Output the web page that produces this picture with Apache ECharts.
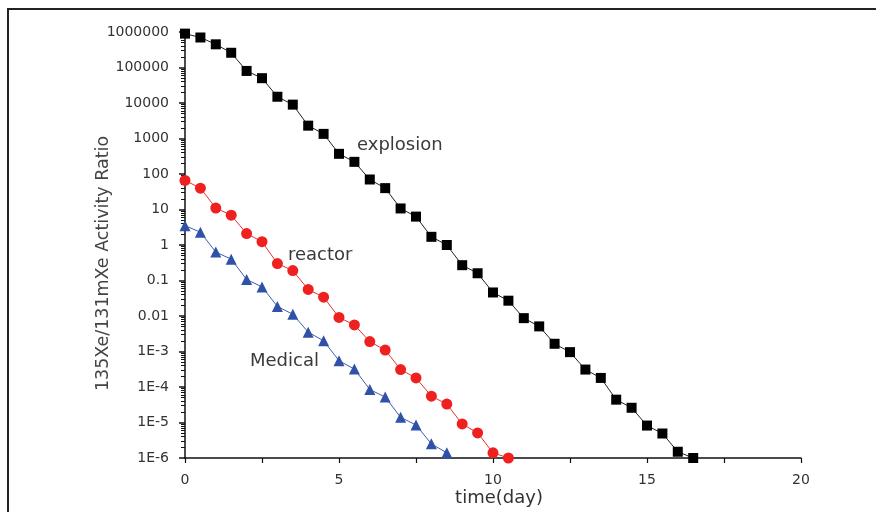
<!DOCTYPE html>
<html>
<head>
<meta charset="utf-8">
<title>Xe activity ratio</title>
<script src="https://cdn.jsdelivr.net/npm/echarts@6/dist/echarts.min.js"></script>
<style>
  html, body { margin: 0; padding: 0; background: #fff; }
  #chart { width: 876px; height: 512px; }
</style>
</head>
<body>
<div id="chart"></div>
<script>
// time in days, one point every half day
const explosionDays = [0, 0.5, 1, 1.5, 2, 2.5, 3, 3.5, 4, 4.5, 5, 5.5, 6, 6.5, 7, 7.5, 8, 8.5,
  9, 9.5, 10, 10.5, 11, 11.5, 12, 12.5, 13, 13.5, 14, 14.5, 15, 15.5, 16, 16.5];
const explosionRatio = [900000, 700000, 450000, 260000, 80000, 50000, 15000, 9000, 2300, 1350,
  370, 220, 70, 40, 10.7, 6.3, 1.7, 1.0, 0.27, 0.16, 0.046, 0.027, 0.0087, 0.0051, 0.00165,
  0.00096, 0.00031, 0.00018, 4.4e-5, 2.6e-5, 8.2e-6, 4.9e-6, 1.5e-6, 1.0e-6];

const reactorDays = [0, 0.5, 1, 1.5, 2, 2.5, 3, 3.5, 4, 4.5, 5, 5.5, 6, 6.5, 7, 7.5, 8, 8.5,
  9, 9.5, 10, 10.5];
const reactorRatio = [66, 40, 11, 6.9, 2.1, 1.24, 0.30, 0.19, 0.056, 0.034, 0.0091, 0.0056,
  0.0019, 0.0011, 3.1e-4, 1.8e-4, 5.5e-5, 3.3e-5, 9.1e-6, 5.1e-6, 1.4e-6, 1.0e-6];

const medicalDays = [0, 0.5, 1, 1.5, 2, 2.5, 3, 3.5, 4, 4.5, 5, 5.5, 6, 6.5, 7, 7.5, 8, 8.5];
const medicalRatio = [3.5, 2.3, 0.63, 0.4, 0.107, 0.066, 0.0186, 0.0112, 0.0035, 0.002,
  5.5e-4, 3.2e-4, 8.5e-5, 5.2e-5, 1.4e-5, 8.5e-6, 2.5e-6, 1.4e-6];

const yTickLabels = {
  '-6': '1E-6', '-5': '1E-5', '-4': '1E-4', '-3': '1E-3', '-2': '0.01', '-1': '0.1',
  '0': '1', '1': '10', '2': '100', '3': '1000', '4': '10000', '5': '100000', '6': '1000000'
};

const pairs = (xs, ys) => xs.map((x, i) => [x, ys[i]]);

const font = '"DejaVu Sans", Arial, sans-serif';
const textColor = '#333';

const option = {
  animation: false,
  grid: { left: 185, right: 75, top: 32, bottom: 53 },
  xAxis: {
    type: 'value',
    min: 0,
    max: 20,
    interval: 5,
    name: 'time(day)',
    nameLocation: 'middle',
    nameGap: 31,
    nameMoveOverlap: false,
    nameTextStyle: { fontFamily: font, fontSize: 18, color: textColor, padding: [0, 0, 0, 12] },
    axisLine: { lineStyle: { color: '#111', width: 1.5 } },
    axisTick: { length: 5, lineStyle: { color: '#111', width: 1.2 } },
    minorTick: { show: true, splitNumber: 2, length: 5, lineStyle: { color: '#111', width: 1.2 } },
    axisLabel: { fontFamily: font, fontSize: 14, color: textColor, margin: 15 },
    splitLine: { show: false }
  },
  yAxis: {
    type: 'log',
    logBase: 10,
    min: 1e-6,
    max: 1e6,
    interval: 1,
    name: '135Xe/131mXe Activity Ratio',
    nameLocation: 'middle',
    nameGap: 73,
    nameMoveOverlap: false,
    nameTextStyle: { fontFamily: font, fontSize: 17.5, color: '#444', padding: [0, 37, 0, 0] },
    axisLine: { show: true, lineStyle: { color: '#111', width: 1.5 } },
    axisTick: { length: 6, lineStyle: { color: '#111', width: 1.5 } },
    minorTick: { show: true, splitNumber: 9, length: 4, lineStyle: { color: '#111', width: 1 } },
    axisLabel: {
      fontFamily: font, fontSize: 14, color: textColor, margin: 16,
      formatter: v => yTickLabels[String(Math.round(Math.log10(v)))] ?? ''
    },
    splitLine: { show: false }
  },
  series: [
    {
      name: 'explosion',
      type: 'line',
      data: pairs(explosionDays, explosionRatio),
      symbol: 'rect',
      symbolSize: 10,
      color: '#000',
      lineStyle: { width: 1, color: '#222' },
      itemStyle: { color: '#000' }
    },
    {
      name: 'reactor',
      type: 'line',
      data: pairs(reactorDays, reactorRatio),
      symbol: 'circle',
      symbolSize: 11,
      color: '#ee2020',
      lineStyle: { width: 1, color: '#ee3030' },
      itemStyle: { color: '#ee2020' }
    },
    {
      name: 'Medical',
      type: 'line',
      data: pairs(medicalDays, medicalRatio),
      symbol: 'triangle',
      symbolSize: 11,
      color: '#2f52a8',
      lineStyle: { width: 1, color: '#3c5cae' },
      itemStyle: { color: '#2f52a8' }
    }
  ],
  graphic: [
    {
      type: 'rect',
      silent: true,
      shape: { x: 8, y: 9, width: 1000, height: 700 },
      style: { fill: 'none', stroke: '#222', lineWidth: 2 }
    },
    {
      type: 'text', x: 357, y: 145,
      style: { text: 'explosion', font: '18px ' + font, fill: '#3a3a3a', verticalAlign: 'middle' }
    },
    {
      type: 'text', x: 288, y: 255,
      style: { text: 'reactor', font: '18px ' + font, fill: '#3a3a3a', verticalAlign: 'middle' }
    },
    {
      type: 'text', x: 250, y: 361,
      style: { text: 'Medical', font: '18px ' + font, fill: '#3a3a3a', verticalAlign: 'middle' }
    }
  ]
};

const chart = echarts.init(document.getElementById('chart'));
chart.setOption(option);
window.addEventListener('resize', () => chart.resize());
</script>
</body>
</html>
